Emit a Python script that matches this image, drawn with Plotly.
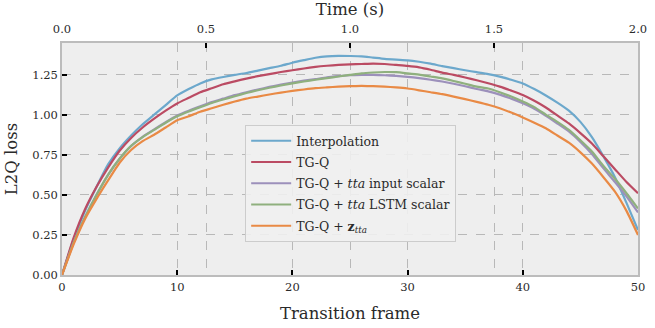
import plotly.graph_objects as go

frames = list(range(51))

interp = [0.0, 0.22, 0.40, 0.55, 0.69, 0.79, 0.87, 0.94, 1.00, 1.06,
          1.12, 1.16, 1.195, 1.22, 1.235, 1.248, 1.26, 1.275, 1.29, 1.305,
          1.324, 1.34, 1.355, 1.364, 1.367, 1.366, 1.364, 1.356, 1.348, 1.343,
          1.339, 1.33, 1.318, 1.303, 1.29, 1.277, 1.265, 1.253, 1.237, 1.218,
          1.195, 1.16, 1.12, 1.075, 1.025, 0.955, 0.86, 0.74, 0.61, 0.45, 0.28]

tgq = [0.0, 0.23, 0.41, 0.55, 0.67, 0.775, 0.855, 0.92, 0.975, 1.025,
       1.07, 1.105, 1.14, 1.165, 1.19, 1.208, 1.225, 1.24, 1.253, 1.266,
       1.277, 1.288, 1.298, 1.305, 1.31, 1.314, 1.316, 1.318, 1.316, 1.31,
       1.304, 1.295, 1.28, 1.262, 1.248, 1.232, 1.215, 1.196, 1.175, 1.15,
       1.123, 1.087, 1.045, 0.995, 0.945, 0.885, 0.82, 0.74, 0.66, 0.58, 0.51]

tta_input = [0.0, 0.2, 0.36, 0.50, 0.625, 0.725, 0.805, 0.862, 0.908, 0.953,
             0.995, 1.025, 1.052, 1.078, 1.1, 1.122, 1.14, 1.157, 1.173, 1.187,
             1.2, 1.212, 1.222, 1.233, 1.24, 1.246, 1.248, 1.248, 1.246, 1.242,
             1.236, 1.228, 1.218, 1.207, 1.193, 1.177, 1.16, 1.145, 1.125, 1.1,
             1.071, 1.037, 0.993, 0.945, 0.895, 0.83, 0.755, 0.665, 0.58, 0.49, 0.39]

tta_lstm = [0.0, 0.2, 0.36, 0.50, 0.625, 0.725, 0.805, 0.86, 0.905, 0.95,
            0.99, 1.02, 1.047, 1.073, 1.095, 1.115, 1.135, 1.152, 1.168, 1.182,
            1.195, 1.207, 1.218, 1.228, 1.238, 1.248, 1.258, 1.263, 1.266, 1.265,
            1.258, 1.25, 1.238, 1.226, 1.21, 1.193, 1.175, 1.163, 1.14, 1.113,
            1.082, 1.047, 1.0, 0.955, 0.905, 0.84, 0.77, 0.68, 0.6, 0.51, 0.415]

z_tta = [0.0, 0.19, 0.35, 0.475, 0.59, 0.70, 0.78, 0.835, 0.875, 0.92,
         0.965, 0.99, 1.018, 1.04, 1.062, 1.082, 1.1, 1.113, 1.126, 1.138,
         1.148, 1.157, 1.165, 1.17, 1.175, 1.178, 1.179, 1.178, 1.175, 1.17,
         1.163, 1.152, 1.14, 1.128, 1.113, 1.097, 1.08, 1.062, 1.04, 1.013,
         0.983, 0.95, 0.915, 0.87, 0.825, 0.765, 0.695, 0.61, 0.52, 0.40, 0.25]

names = ["Interpolation", "TG-Q", "TG-Q + <i>tta</i> input scalar",
         "TG-Q + <i>tta</i> LSTM scalar", "TG-Q + <b>z</b><sub><i>tta</i></sub>"]
colors = ["#6ca8cc", "#bb4b63", "#9c90bb", "#8fb07e", "#e98a45"]
series = [interp, tgq, tta_input, tta_lstm, z_tta]

x_ticks = [0, 10, 20, 30, 40, 50]
y_ticks = [0.0, 0.25, 0.5, 0.75, 1.0, 1.25]
y_labels = ["0.00", "0.25", "0.50", "0.75", "1.00", "1.25"]
time_ticks = [0.0, 0.5, 1.0, 1.5, 2.0]
time_labels = ["0.0", "0.5", "1.0", "1.5", "2.0"]

FONT = "DejaVu Serif"
TXT = "#2a2a2a"

def f(size):
    return dict(family=FONT, size=size, color=TXT)

fig = go.Figure()
for i, (name, col, ys) in enumerate(zip(names, colors, series)):
    fig.add_trace(go.Scatter(x=frames, y=ys, mode="lines", name=name,
                             legendgroup="g%d" % i,
                             line=dict(color=col, width=2.2, shape="spline", smoothing=0.5)))
# invisible trace for top axis
fig.add_trace(go.Scatter(x=[0, 2], y=[0, 0], xaxis="x2", mode="lines",
                         line=dict(width=0), showlegend=False, hoverinfo="skip"))

grid = dict(showgrid=True, gridcolor="#b8b8b8", griddash="dash", gridwidth=1)
fig.update_layout(
    width=655, height=328,
    margin=dict(l=62, r=8, t=42, b=53),
    paper_bgcolor="white", plot_bgcolor="#eeeeee",
    font=f(11),
    xaxis=dict(range=[0, 50], tickvals=x_ticks, ticks="inside", ticklen=5,
               tickcolor="black", tickwidth=1.5, zeroline=False,
               showline=True, linecolor="#bcbcbc", linewidth=1.5, mirror=True,
               title=dict(text="Transition frame", font=f(16.5), standoff=15),
               tickfont=f(11.5), **grid),
    xaxis2=dict(range=[0, 2], overlaying="x", side="top", tickvals=time_ticks,
                ticktext=time_labels, ticks="inside", ticklen=5, tickcolor="black",
                tickwidth=1.5, zeroline=False, showline=False,
                ticklabelstandoff=7,
                title=dict(text="Time (s)", font=f(16.5), standoff=2),
                tickfont=f(11.5), **grid),
    yaxis=dict(range=[0, 1.447], tickvals=y_ticks, ticktext=y_labels,
               ticks="inside", ticklen=5, tickcolor="black", tickwidth=1.5,
               zeroline=False, showline=True, linecolor="#bcbcbc", linewidth=1.5,
               mirror=True, title=dict(text="L2Q loss", font=f(16.5), standoff=11),
               tickfont=f(11.5), **grid),
    legend=dict(x=0.318, y=0.646, xanchor="left", yanchor="top",
                bgcolor="rgba(240,240,240,0.9)", bordercolor="#cccccc", borderwidth=1,
                font=f(12.5), tracegroupgap=2, itemwidth=40, traceorder="grouped"),
    showlegend=True,
)

fig.write_html("out.html")
